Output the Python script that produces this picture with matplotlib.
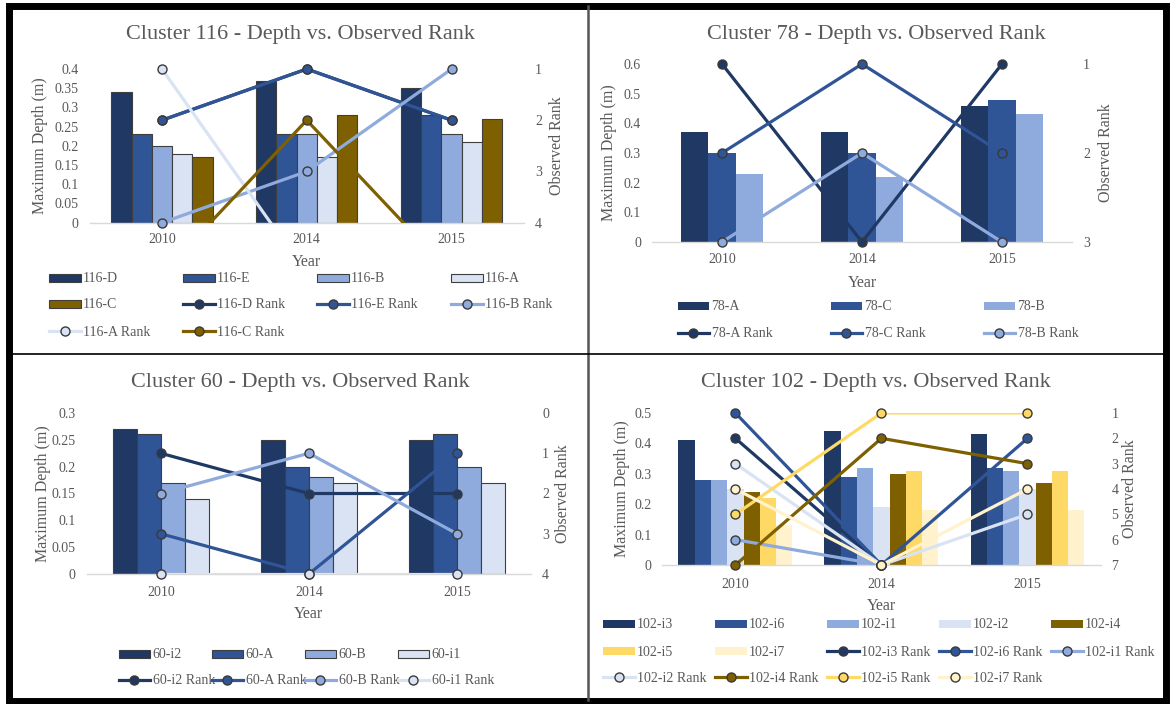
import numpy as np
import matplotlib
matplotlib.use('Agg')
import matplotlib.pyplot as plt
from matplotlib.patches import Rectangle
from matplotlib.lines import Line2D
from matplotlib.ticker import FuncFormatter, FixedLocator

plt.rcParams['font.family'] = ['Liberation Serif', 'DejaVu Serif']

# ---------------- data ----------------
years = ['2010', '2014', '2015']

c116_names = ['116-D', '116-E', '116-B', '116-A', '116-C']
c116_depth = [[0.34, 0.37, 0.35],
              [0.23, 0.23, 0.28],
              [0.20, 0.23, 0.23],
              [0.18, 0.17, 0.21],
              [0.17, 0.28, 0.27]]
c116_rank = [[2, 1, 2], [2, 1, 2], [4, 3, 1], [1, 5, 5], [5, 2, 5]]

c78_names = ['78-A', '78-C', '78-B']
c78_depth = [[0.37, 0.37, 0.46],
             [0.30, 0.30, 0.48],
             [0.23, 0.22, 0.43]]
c78_rank = [[1, 3, 1], [2, 1, 2], [3, 2, 3]]

c60_names = ['60-i2', '60-A', '60-B', '60-i1']
c60_depth = [[0.27, 0.25, 0.25],
             [0.26, 0.20, 0.26],
             [0.17, 0.18, 0.20],
             [0.14, 0.17, 0.17]]
c60_rank = [[1, 2, 2], [3, 4, 1], [2, 1, 3], [4, 4, 4]]

c102_names = ['102-i3', '102-i6', '102-i1', '102-i2', '102-i4', '102-i5', '102-i7']
c102_depth = [[0.41, 0.44, 0.43],
              [0.28, 0.29, 0.32],
              [0.28, 0.32, 0.31],
              [0.25, 0.19, 0.25],
              [0.24, 0.30, 0.27],
              [0.22, 0.31, 0.31],
              [0.13, 0.18, 0.18]]
c102_rank = [[2, 7, np.nan], [1, 7, 2], [6, 7, np.nan], [3, 7, 5],
             [7, 2, 3], [5, 1, 1], [4, 7, 4]]

# ---------------- style ----------------
NAVY, BLUE, LBLUE, VLBLUE = '#1F3864', '#2F5597', '#8FAADC', '#DAE3F3'
BROWN, GOLD, PALE = '#7F6000', '#FFD966', '#FFF2CC'
TXT = '#595959'
MEC = '#3A3A3A'
W, H = 1170, 704

fig = plt.figure(figsize=(W / 100, H / 100), dpi=100)


def fx(x):
    return x / W


def fy(y):
    return 1 - y / H


def panel(names, depth, rank, colors, box, ymax, ystep, rlim, gw, edge,
          title, title_xy, ylab_x, rlab_x, year_y, tick_pad,
          lx0, ldx, lys, ncol):
    x0, y0, x1, y1 = box
    ax = fig.add_axes([fx(x0), fy(y1), (x1 - x0) / W, (y1 - y0) / H])
    ax2 = ax.twinx()
    xs = np.arange(len(years))
    n = len(names)
    bw = gw / n
    bar_handles = []
    for i, (nm, d, c) in enumerate(zip(names, depth, colors)):
        off = (i - (n - 1) / 2) * bw
        bc = ax.bar(xs + off, d, width=bw, color=c,
                    edgecolor='#3F3F3F' if edge else c,
                    linewidth=0.8 if edge else 0, label=nm, zorder=2)
        bar_handles.append(bc)
    ax.set_xlim(-0.5, len(years) - 0.5)
    ax.set_ylim(0, ymax)
    yt = np.arange(0, ymax + ystep / 2, ystep)
    ax.yaxis.set_major_locator(FixedLocator(yt))
    ax.yaxis.set_major_formatter(FuncFormatter(lambda v, p: f'{round(v, 3):g}'))
    ax.set_xticks(xs)
    ax.set_xticklabels(years)
    for s in ['top', 'right', 'left']:
        ax.spines[s].set_visible(False)
        ax2.spines[s].set_visible(False)
    ax2.spines['bottom'].set_visible(False)
    ax.spines['bottom'].set_color('#D9D9D9')
    ax.spines['bottom'].set_linewidth(1.0)
    ax.tick_params(axis='both', length=0, labelsize=10, labelcolor=TXT)
    ax.tick_params(axis='x', pad=tick_pad)
    ax.tick_params(axis='y', pad=8)

    lo, hi = rlim
    ax2.set_ylim(hi, lo)
    ax2.set_yticks(np.arange(lo, hi + 1))
    ax2.tick_params(axis='y', length=0, labelsize=10, labelcolor=TXT, pad=8)

    line_handles = []
    for nm, r, c in zip(names, rank, colors):
        r = np.array(r, dtype=float)
        ax2.plot(xs, r, color=c, lw=2.3, solid_capstyle='butt', zorder=3)
        rin = np.where((r >= lo) & (r <= hi), r, np.nan)
        ax2.plot(xs, rin, ls='none', marker='o', ms=6.5,
                 mfc=c, mec=MEC, mew=1.0, clip_on=False, zorder=4)
        line_handles.append(Line2D([], [], color=c, lw=2.3, marker='o',
                                   ms=6.5, mfc=c, mec=MEC, mew=1.0))

    fig.text(fx(title_xy[0]), fy(title_xy[1]), title, ha='center',
             va='center', fontsize=16, color=TXT)
    fig.text(fx(ylab_x), fy((y0 + y1) / 2), 'Maximum Depth (m)', rotation=90,
             ha='center', va='center', fontsize=11.5, color=TXT)
    fig.text(fx(rlab_x), fy((y0 + y1) / 2), 'Observed Rank', rotation=90,
             ha='center', va='center', fontsize=11.5, color=TXT)
    fig.text(fx((x0 + x1) / 2), fy(year_y), 'Year', ha='center',
             va='center', fontsize=11.5, color=TXT)

    handles = bar_handles + line_handles
    labels = list(names) + [f'{nm} Rank' for nm in names]
    for i, (h, lab) in enumerate(zip(handles, labels)):
        r_, c_ = divmod(i, ncol)
        fig.legend([h], [lab], loc='center left',
                   bbox_to_anchor=(fx(lx0 + c_ * ldx), fy(lys[r_])),
                   frameon=False, borderpad=0, borderaxespad=0,
                   handlelength=2.3, handleheight=0.5, handletextpad=0.15,
                   numpoints=1, fontsize=10, labelcolor=TXT)


panel(c116_names, c116_depth, c116_rank,
      [NAVY, BLUE, LBLUE, VLBLUE, BROWN],
      (89.5, 69, 524, 222.7), 0.4, 0.05, (1, 4), 0.70, True,
      'Cluster 116 - Depth vs. Observed Rank', (300, 35), 40, 557, 262, 7.5,
      49, 134, [279, 305, 332], 4)

panel(c78_names, c78_depth, c78_rank,
      [NAVY, BLUE, LBLUE],
      (652, 64, 1072, 242), 0.6, 0.1, (1, 3), 0.587, False,
      'Cluster 78 - Depth vs. Observed Rank', (876, 35), 609, 1106, 283, 8,
      677.5, 153, [307, 334], 3)

panel(c60_names, c60_depth, c60_rank,
      [NAVY, BLUE, LBLUE, VLBLUE],
      (86.7, 413, 531, 574), 0.3, 0.05, (0, 4), 0.65, True,
      'Cluster 60 - Depth vs. Observed Rank', (300, 382), 43, 563, 614, 9,
      118.5, 93, [655, 681], 4)

panel(c102_names, c102_depth, c102_rank,
      [NAVY, BLUE, LBLUE, VLBLUE, BROWN, GOLD, PALE],
      (662.4, 413, 1100.5, 565), 0.5, 0.1, (1, 7), 0.78, False,
      'Cluster 102 - Depth vs. Observed Rank', (876, 382), 622, 1130, 606, 9,
      603, 112, [625, 652, 678], 5)

# ---------------- frame ----------------
fig.patches.append(Rectangle((fx(8.5), fy(700.5)), (1165.5 - 8.5) / W,
                             (700.5 - 6) / H, transform=fig.transFigure,
                             fill=False, edgecolor='black', linewidth=5.0))
fig.lines.append(Line2D([fx(588), fx(588)], [fy(6), fy(700)],
                        transform=fig.transFigure, color='#555555', lw=1.8))
fig.lines.append(Line2D([fx(8), fx(1165)], [fy(354), fy(354)],
                        transform=fig.transFigure, color='black', lw=1.2))

fig.savefig('out.png', dpi=100)
